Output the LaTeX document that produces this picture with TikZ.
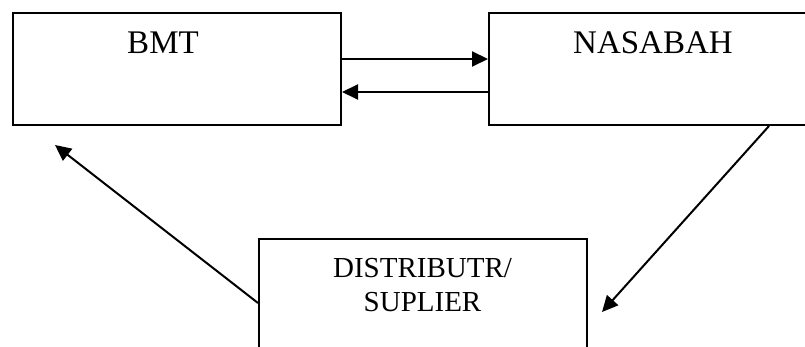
\documentclass[tikz,border=0pt]{standalone}
\usepackage{fontspec}
\setmainfont{Liberation Serif}
\usetikzlibrary{arrows.meta}
\begin{document}
\begin{tikzpicture}[x=1pt,y=-1pt,
  box/.style={draw,line width=2pt,rectangle,inner sep=0pt,minimum width=#1},
  lbl/.style={anchor=base,inner sep=0pt,font=\fontsize{33}{36}\selectfont},
  lbls/.style={anchor=base,inner sep=0pt,font=\fontsize{29}{34}\selectfont},
  arr/.style={line width=2pt,-{Triangle[length=16pt,width=15pt]}}]
\useasboundingbox (0,0) rectangle (805,347);
\clip (0,0) rectangle (805,347);
\node[box=328pt,minimum height=112pt] (bmt) at (177,69) {};
\node[box=341pt,minimum height=112pt] (nas) at (659.5,69) {};
\node[box=328pt,minimum height=141pt] (dist) at (423,309.5) {};
\node[lbl] (tbmt) at (163,54) {BMT};
\node[lbl] (tnas) at (653,54) {NASABAH};
\node[lbls] (td1) at (422.5,277) {DISTRIBUTR/};
\node[lbls] (td2) at (422.5,311) {SUPLIER};
\coordinate (t1) at (602,312);
\coordinate (t2) at (55,145);
\draw[arr] (bmt.east |- 0,59) -- (nas.west |- 0,59);
\draw[arr] (nas.west |- 0,92) -- (bmt.east |- 0,92);
\draw[arr] (nas.south -| 769,0) -- (t1);
\draw[arr] (dist.west |- 0,303) -- (t2);
\end{tikzpicture}
\end{document}
